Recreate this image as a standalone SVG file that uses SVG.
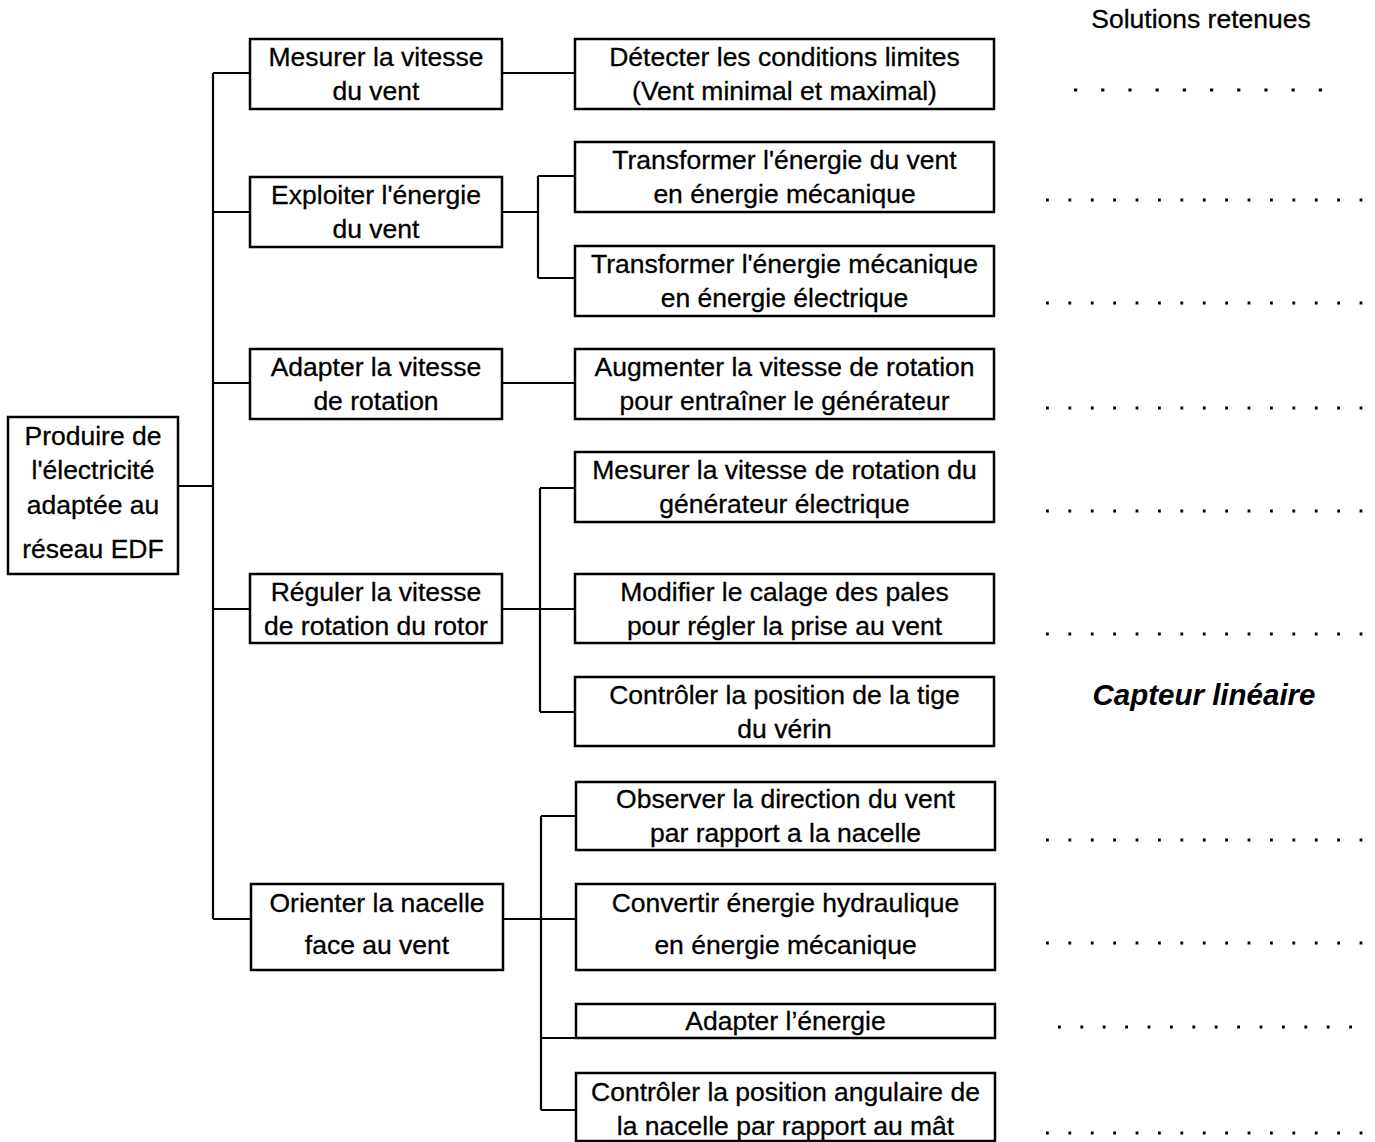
<svg xmlns="http://www.w3.org/2000/svg" width="1375" height="1142" viewBox="0 0 1375 1142">
<style>
.box{fill:#fff;stroke:#000;stroke-width:2.5}
.t{font-family:"Liberation Sans",Arial,sans-serif;font-size:26.5px;fill:#000;text-anchor:middle;stroke:#000;stroke-width:0.3}
.c{fill:none;stroke:#000;stroke-width:2.2}
.dots{stroke:#000;stroke-width:2.8;stroke-dasharray:2.8 19.6;fill:none}
.bigdots{stroke:#000;stroke-width:3.2;stroke-dasharray:3.2 24;fill:none}
</style>
<rect width="1375" height="1142" fill="#fff"/>
<g id="connectors">
<path class="c" d="M178 486H213M213 73V919M213 73H250M213 212H250M213 383H250M213 609H250M213 919H250"/>
<path class="c" d="M502 73H575"/>
<path class="c" d="M502 212H538M538 176V278M538 176H575M538 278H575"/>
<path class="c" d="M502 383H575"/>
<path class="c" d="M502 609H575M540 488V712M540 488H575M540 712H575"/>
<path class="c" d="M502 919H576M541 816V1110M541 816H576M541 1038H576M541 1110H576"/>
</g>
<g id="root"><rect class="box" x="8" y="417" width="170" height="157"/>
<text class="t" x="93" y="445">Produire de</text><text class="t" x="93" y="479">l'électricité</text><text class="t" x="93" y="514">adaptée au</text><text class="t" x="93" y="558">réseau EDF</text></g>
<g id="n1"><rect class="box" x="250" y="39" width="252" height="70"/><text class="t" x="376" y="66">Mesurer la vitesse</text><text class="t" x="376" y="100">du vent</text></g>
<g id="n2"><rect class="box" x="250" y="177" width="252" height="70"/><text class="t" x="376" y="204">Exploiter l'énergie</text><text class="t" x="376" y="238">du vent</text></g>
<g id="n3"><rect class="box" x="250" y="349" width="252" height="70"/><text class="t" x="376" y="376">Adapter la vitesse</text><text class="t" x="376" y="410">de rotation</text></g>
<g id="n4"><rect class="box" x="250" y="574" width="252" height="69"/><text class="t" x="376" y="601">Réguler la vitesse</text><text class="t" x="376" y="635">de rotation du rotor</text></g>
<g id="n5"><rect class="box" x="251" y="884" width="252" height="86"/><text class="t" x="377" y="912">Orienter la nacelle</text><text class="t" x="377" y="954">face au vent</text></g>
<g id="m1"><rect class="box" x="575" y="39" width="419" height="70"/><text class="t" x="784.5" y="66">Détecter les conditions limites</text><text class="t" x="784.5" y="100">(Vent minimal et maximal)</text></g>
<g id="m2"><rect class="box" x="575" y="142" width="419" height="70"/><text class="t" x="784.5" y="169">Transformer l'énergie du vent</text><text class="t" x="784.5" y="203">en énergie mécanique</text></g>
<g id="m3"><rect class="box" x="575" y="246" width="419" height="70"/><text class="t" x="784.5" y="273">Transformer l'énergie mécanique</text><text class="t" x="784.5" y="307">en énergie électrique</text></g>
<g id="m4"><rect class="box" x="575" y="349" width="419" height="70"/><text class="t" x="784.5" y="376">Augmenter la vitesse de rotation</text><text class="t" x="784.5" y="410">pour entraîner le générateur</text></g>
<g id="m5"><rect class="box" x="575" y="452" width="419" height="70"/><text class="t" x="784.5" y="479">Mesurer la vitesse de rotation du</text><text class="t" x="784.5" y="513">générateur électrique</text></g>
<g id="m6"><rect class="box" x="575" y="574" width="419" height="69"/><text class="t" x="784.5" y="601">Modifier le calage des pales</text><text class="t" x="784.5" y="635">pour régler la prise au vent</text></g>
<g id="m7"><rect class="box" x="575" y="677" width="419" height="69"/><text class="t" x="784.5" y="704">Contrôler la position de la tige</text><text class="t" x="784.5" y="738">du vérin</text></g>
<g id="m8"><rect class="box" x="576" y="782" width="419" height="68"/><text class="t" x="785.5" y="808">Observer la direction du vent</text><text class="t" x="785.5" y="842">par rapport a la nacelle</text></g>
<g id="m9"><rect class="box" x="576" y="884" width="419" height="86"/><text class="t" x="785.5" y="912">Convertir énergie hydraulique</text><text class="t" x="785.5" y="954">en énergie mécanique</text></g>
<g id="m10"><rect class="box" x="576" y="1004" width="419" height="34"/><text class="t" x="785.5" y="1030">Adapter l’énergie</text></g>
<g id="m11"><rect class="box" x="576" y="1073" width="419" height="68"/><text class="t" x="785.5" y="1101">Contrôler la position angulaire de</text><text class="t" x="785.5" y="1135">la nacelle par rapport au mât</text></g>
<g id="solutions">
<text class="t" x="1201" y="28">Solutions retenues</text>
<text x="1204" y="705" style="font-family:'Liberation Sans',Arial,sans-serif;font-size:29.5px;font-weight:bold;font-style:italic;text-anchor:middle">Capteur linéaire</text>
<path class="bigdots" d="M1074 90H1335"/>
<path class="dots" d="M1046 200H1370M1046 303H1370M1046 408H1370M1046 511H1370M1046 634H1370M1046 840H1370M1046 943H1370M1058 1027H1355M1046 1133H1370"/>
</g>
</svg>
